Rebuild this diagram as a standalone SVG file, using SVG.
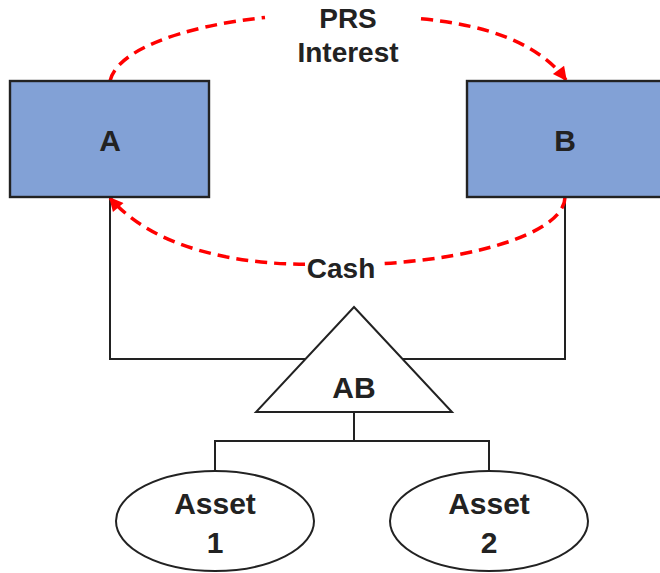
<svg xmlns="http://www.w3.org/2000/svg" width="660" height="573" viewBox="0 0 660 573">
  <defs>
    <marker id="redArrow" viewBox="0 0 10 10" refX="9" refY="5" markerWidth="4.4" markerHeight="4" markerUnits="strokeWidth" orient="auto">
      <path d="M0,0 L10,5 L0,10 Z" fill="#ff0000"/>
    </marker>
    <style>
      .lbl { font-family: "Liberation Sans", Arial, sans-serif; font-weight: bold; fill: #222; text-anchor: middle; }
      .box { fill: #82a1d6; stroke: #222; stroke-width: 2.4; }
      .shape { fill: #fff; stroke: #222; stroke-width: 2; }
      .wire { fill: none; stroke: #222; stroke-width: 2; }
      .flow { fill: none; stroke: #ff0000; stroke-width: 3.5; stroke-dasharray: 12 7; }
    </style>
  </defs>

  <!-- tree wiring -->
  <g id="connectors">
    <polyline class="wire" points="110,197 110,359 305.5,359"/>
    <polyline class="wire" points="565,197 565,359 402.5,359"/>
    <line class="wire" x1="354" y1="412" x2="354" y2="441"/>
    <polyline class="wire" points="215,471 215,441 489,441 489,471"/>
    <!-- PRS interest: A to B -->
    <path class="flow" d="M110,81 A228,72 0 0 1 265,17.5"/>
    <path class="flow" d="M421,18.8 C490,25 540,45 566,80" marker-end="url(#redArrow)"/>
    <!-- cash: B to A -->
    <path class="flow" d="M565,197 A228,68 0 0 1 383,263.6"/>
    <path class="flow" d="M305,264.3 C240,264 155,250 110,198" marker-end="url(#redArrow)"/>
  </g>

  <g id="label-prs">
    <text class="lbl" x="348" y="28" font-size="28">PRS</text>
    <text class="lbl" x="348" y="62" font-size="28">Interest</text>
  </g>
  <g id="label-cash">
    <text class="lbl" x="341" y="278" font-size="28">Cash</text>
  </g>

  <g id="node-a">
    <rect class="box" x="10" y="81" width="199" height="116"/>
    <text class="lbl" x="110" y="151" font-size="30">A</text>
  </g>
  <g id="node-b">
    <rect class="box" x="467" y="81" width="199" height="116"/>
    <text class="lbl" x="565" y="151" font-size="30">B</text>
  </g>

  <g id="node-ab">
    <polygon class="shape" points="354,307 452,412 256,412"/>
    <text class="lbl" x="354" y="398" font-size="30">AB</text>
  </g>

  <g id="node-asset1">
    <ellipse class="shape" cx="215" cy="521" rx="99" ry="50"/>
    <text class="lbl" x="215" y="514" font-size="30">Asset</text>
    <text class="lbl" x="215" y="553" font-size="30">1</text>
  </g>
  <g id="node-asset2">
    <ellipse class="shape" cx="489" cy="521" rx="99" ry="50"/>
    <text class="lbl" x="489" y="514" font-size="30">Asset</text>
    <text class="lbl" x="489" y="553" font-size="30">2</text>
  </g>
</svg>
